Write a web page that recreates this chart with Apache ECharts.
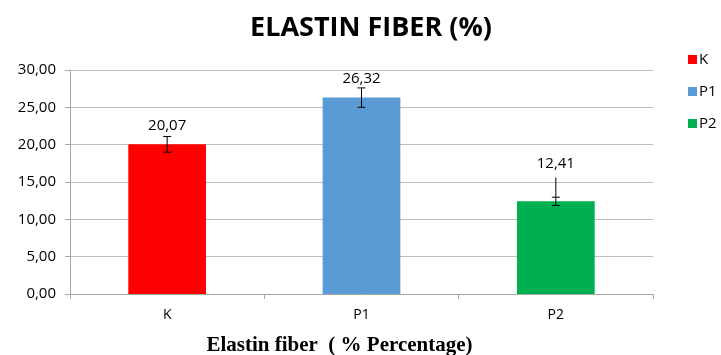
<!DOCTYPE html>
<html><head><meta charset="utf-8">
<script src="https://cdn.jsdelivr.net/npm/echarts@6/dist/echarts.min.js"></script>
<style>html,body{margin:0;padding:0;background:#fff}#c{width:721px;height:355px}</style>
</head><body><div id="c"></div>
<script>
const categories = ['K', 'P1', 'P2'];
const values = [20.07, 26.32, 12.41];
const valueLabels = ['20,07', '26,32', '12,41'];
const colors = ['#ff0000', '#5b9bd5', '#00b050'];
// error whisker: line from lineLow to lineHigh, caps at capLow and capHigh
const lineLow = [19.0, 25.0, 11.86];
const lineHigh = [21.1, 27.6, 15.6];
const capLow = [19.0, 25.0, 11.86];
const capHigh = [21.1, 27.6, 12.96];
const yTicks = [0, 5, 10, 15, 20, 25, 30];
const labelDist = [11, 11, 30];

const chart = echarts.init(document.getElementById('c'));
const font = '"Open Sans", "Noto Sans", sans-serif';
chart.setOption({
  animation: false,
  title: { text: 'ELASTIN FIBER (%)', left: 366, top: 10, textAlign: 'center',
    textStyle: { fontFamily: font, fontWeight: 'bold', fontSize: 27, color: '#000' } },
  legend: {
    orient: 'vertical', left: 683, top: 47, itemGap: 17, itemWidth: 9, itemHeight: 9,
    icon: 'rect', textStyle: { fontFamily: font, fontSize: 15, color: '#000', padding: [0, 0, 0, -3] },
    data: categories
  },
  grid: { left: 70, right: 68, top: 70, bottom: 61, outerBoundsMode: 'none', containLabel: false },
  xAxis: {
    type: 'category', data: categories,
    name: 'Elastin fiber  ( % Percentage)', nameLocation: 'middle', nameGap: 41,
    nameTextStyle: { fontFamily: '"Liberation Serif", serif', fontWeight: 'bold', fontSize: 21, color: '#000', padding: [0, 44, 0, 0] },
    axisLine: { lineStyle: { color: '#a6a6a6' } },
    axisTick: { show: true, lineStyle: { color: '#a6a6a6' }, length: 5 },
    axisLabel: { fontFamily: font, fontSize: 14, color: '#000', margin: 14 }
  },
  yAxis: {
    type: 'value', min: 0, max: 30, interval: 5,
    axisLine: { show: true, lineStyle: { color: '#a6a6a6' } },
    axisTick: { show: true, length: 5, lineStyle: { color: '#a6a6a6' } },
    splitLine: { lineStyle: { color: '#bfbfbf' } },
    axisLabel: { fontFamily: font, fontSize: 15, color: '#000', margin: 14,
      formatter: v => yTicks.includes(v) ? v.toFixed(2).replace('.', ',') : '' }
  },
  series: [
    ...categories.map((c, i) => ({
      name: c, type: 'bar', stack: 'a', barWidth: '40%',
      itemStyle: { color: colors[i] },
      data: categories.map((_, j) => j === i ? {
        value: values[j],
        label: { show: true, position: 'top', distance: labelDist[j], formatter: valueLabels[j],
          fontFamily: font, fontSize: 15, color: '#000' }
      } : '-')
    })),
    {
      type: 'custom', silent: true, z: 10,
      data: categories.map((c, i) => [i, lineLow[i], lineHigh[i], capLow[i], capHigh[i]]),
      renderItem: (params, api) => {
        const x = api.coord([api.value(0), 0])[0];
        const yl = api.coord([0, api.value(1)])[1];
        const yh = api.coord([0, api.value(2)])[1];
        const cl = api.coord([0, api.value(3)])[1];
        const ch = api.coord([0, api.value(4)])[1];
        const s = { stroke: '#000', lineWidth: 1 };
        const w = 4;
        return { type: 'group', children: [
          { type: 'line', shape: { x1: x, y1: yl, x2: x, y2: yh }, style: s },
          { type: 'line', shape: { x1: x - w, y1: cl, x2: x + w, y2: cl }, style: s },
          { type: 'line', shape: { x1: x - w, y1: ch, x2: x + w, y2: ch }, style: s }
        ]};
      }
    }
  ]
});
</script></body></html>
